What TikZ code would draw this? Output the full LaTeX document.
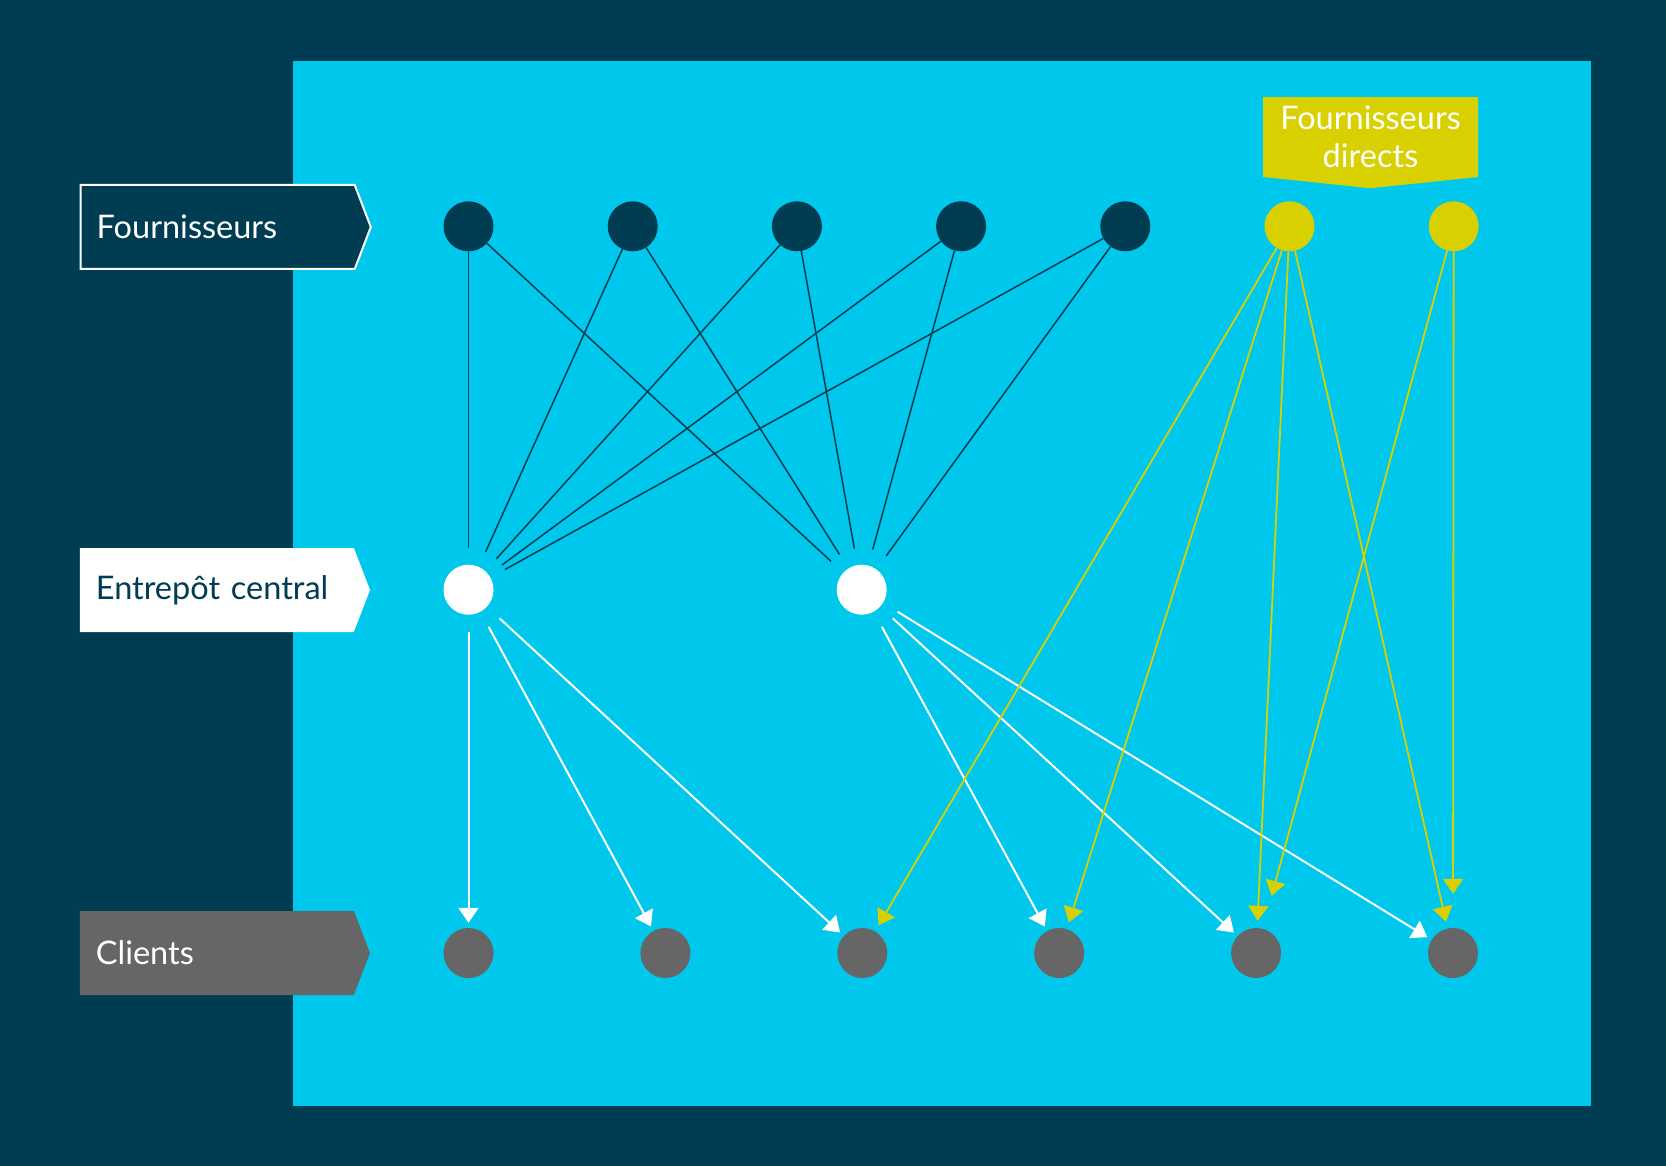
\documentclass[tikz,border=0pt]{standalone}
\usepackage{fontspec}
\setmainfont{Lato}
\usetikzlibrary{arrows.meta}
\usetikzlibrary{shapes.symbols}
\definecolor{navy}{RGB}{0,61,82}
\definecolor{sky}{RGB}{0,200,236}
\definecolor{olive}{RGB}{216,208,0}
\definecolor{slate}{RGB}{102,102,102}
\newcommand{\labelfont}{\fontsize{32.5}{38}\selectfont}
\tikzset{
    dot/.style={circle, minimum size=50pt, inner sep=0pt},
    rowlabel/.style={signal, signal to=east, signal pointer angle=138, minimum height=84pt,
        text width=242pt, inner xsep=16pt, align=left, anchor=west, font=\labelfont},
    supply/.style={draw=navy, line width=1.5pt, shorten >=16.5pt},
    deliver/.style={draw=white, line width=2pt, shorten <=17pt, shorten >=5pt, -{Triangle[length=15pt,width=20pt]}},
    direct/.style={draw=olive, line width=1.8pt, -{Triangle[length=15pt,width=20pt]}}
}

\begin{document}
\begin{tikzpicture}[x=1pt, y=-1pt]
    % background
    \fill [navy] (0,0) rectangle (1666,1166);
    \fill [sky] (293.3,60.7) rectangle (1591,1106);
    % row labels
    \node [rowlabel, fill=navy, draw=white, line width=2pt, text=white] (lblsupply) at (79.7,227) {Fournisseurs};
    \node [rowlabel, fill=white, text=navy] (lblstore) at (79.7,590) {Entrepôt central};
    \node [rowlabel, fill=slate, text=white] (lblclient) at (79.7,953) {Clients};
    \node [signal, signal to=south, signal pointer angle=168, fill=olive, text=white, align=center,
        minimum width=215pt, inner ysep=9pt, font=\labelfont] (lbldirect) at (1370.5,137) {Fournisseurs\\directs};
    % suppliers
    \foreach \i in {1,...,5}
        \node [dot, fill=navy] (F\i) at ({468.5+164.2*(\i-1)},226.3) {};
    \node [dot, fill=olive] (D1) at (1289.5,226.3) {};
    \node [dot, fill=olive] (D2) at (1453.7,226.3) {};
    % warehouses
    \node [dot, fill=white] (W1) at (468.5,589.7) {};
    \node [dot, fill=white] (W2) at (861.7,589.7) {};
    % clients
    \foreach \i in {1,...,6}
        \node [dot, fill=slate] (C\i) at ({468.5+196.9*(\i-1)},953) {};
    % supplier -> warehouse
    \foreach \i in {1,...,5} {
        \draw [supply] (F\i) -- (W1);
        \draw [supply] (F\i) -- (W2);
    }
    % warehouse -> client
    \foreach \i in {1,2,3}
        \draw [deliver] (W1) -- (C\i);
    \foreach \i in {4,5,6}
        \draw [deliver] (W2) -- (C\i);
    % direct deliveries
    \foreach \i in {3,...,6}
        \draw [direct, shorten >=7pt] (D1) -- (C\i);
    \draw [direct, shorten >=34pt] (D2) -- (C5);
    \draw [direct, shorten >=34pt] (D2) -- (C6);
\end{tikzpicture}
\end{document}
